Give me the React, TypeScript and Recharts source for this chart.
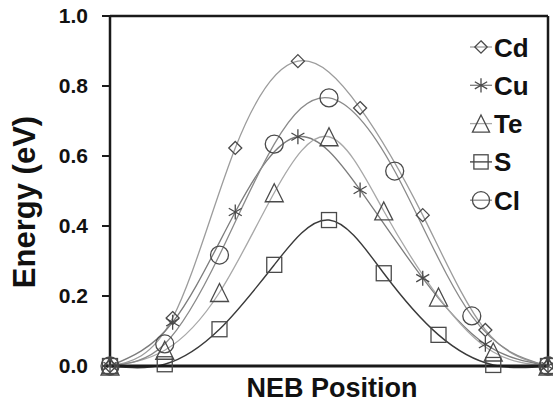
import React from 'react';
import { LineChart, Line, XAxis, YAxis, ReferenceLine, Legend } from 'recharts';

const seriesNames = ['Cd', 'Cu', 'Te', 'S', 'Cl'];

const cdX = [0, 0.143, 0.286, 0.429, 0.571, 0.714, 0.857, 1];
const cdY = [0, 0.137, 0.623, 0.871, 0.737, 0.431, 0.103, 0];

const cuX = [0, 0.143, 0.286, 0.429, 0.571, 0.714, 0.857, 1];
const cuY = [0, 0.125, 0.44, 0.655, 0.503, 0.251, 0.062, 0];

const teX = [0, 0.125, 0.25, 0.375, 0.5, 0.625, 0.75, 0.875, 1];
const teY = [0, 0.045, 0.21, 0.495, 0.655, 0.443, 0.197, 0.04, 0];

const sX = [0, 0.125, 0.25, 0.375, 0.5, 0.625, 0.75, 0.875, 1];
const sY = [0, 0.005, 0.105, 0.289, 0.417, 0.265, 0.089, 0.003, 0];

const clX = [0, 0.125, 0.25, 0.375, 0.5, 0.65, 0.826, 1];
const clY = [0, 0.063, 0.317, 0.634, 0.766, 0.557, 0.143, 0];

const yTicks = [0, 0.2, 0.4, 0.6, 0.8, 1.0];

const zip = (xs: number[], ys: number[]) => xs.map((x, i) => ({ x, y: ys[i] }));

const FONT = '"Liberation Sans", Arial, Helvetica, sans-serif';
const MARK = '#4a4a4a';

type Shape = 'diamond' | 'star' | 'triangle' | 'square' | 'circle';

const series: { name: string; data: { x: number; y: number }[]; color: string; shape: Shape; width: number }[] = [
  { name: seriesNames[0], data: zip(cdX, cdY), color: '#9c9c9c', shape: 'diamond', width: 1.3 },
  { name: seriesNames[1], data: zip(cuX, cuY), color: '#7c7c7c', shape: 'star', width: 1.3 },
  { name: seriesNames[2], data: zip(teX, teY), color: '#a8a8a8', shape: 'triangle', width: 1.3 },
  { name: seriesNames[4], data: zip(clX, clY), color: '#8a8a8a', shape: 'circle', width: 1.3 },
  { name: seriesNames[3], data: zip(sX, sY), color: '#3a3a3a', shape: 'square', width: 1.4 },
];

const Marker = ({ cx, cy, shape, s = 1 }: { cx: number; cy: number; shape: Shape; s?: number }) => {
  const common = { fill: 'none', stroke: MARK, strokeWidth: 1.3 };
  if (shape === 'diamond') {
    const r = 6.5 * s;
    return <path d={`M${cx},${cy - r}L${cx + r},${cy}L${cx},${cy + r}L${cx - r},${cy}Z`} {...common} />;
  }
  if (shape === 'square') {
    const r = 7.5 * s;
    return <rect x={cx - r} y={cy - r} width={2 * r} height={2 * r} {...common} />;
  }
  if (shape === 'circle') {
    return <circle cx={cx} cy={cy} r={9 * s} {...common} />;
  }
  if (shape === 'triangle') {
    const w = 9 * s;
    const h = 9 * s;
    return <path d={`M${cx},${cy - h}L${cx + w},${cy + h}L${cx - w},${cy + h}Z`} {...common} />;
  }
  const r = 7.5 * s;
  const a = r * Math.cos(Math.PI / 6);
  const b = r * Math.sin(Math.PI / 6);
  return (
    <path
      d={`M${cx},${cy - r}L${cx},${cy + r}M${cx - a},${cy - b}L${cx + a},${cy + b}M${cx - a},${cy + b}L${cx + a},${cy - b}`}
      {...common}
    />
  );
};

const legendOrder = ['Cd', 'Cu', 'Te', 'S', 'Cl'];

const LegendContent = () => (
  <svg width={80} height={200} style={{ display: 'block' }}>
    {legendOrder.map((n, i) => {
      const sr = series.find((d) => d.name === n)!;
      const cy = 19 + i * 38.3;
      return (
        <g key={n}>
          <line x1={0} x2={22} y1={cy} y2={cy} stroke={sr.color} strokeWidth={1.3} />
          <Marker cx={11} cy={cy} shape={sr.shape} s={0.95} />
          <text x={24} y={cy + 9.5} fontFamily={FONT} fontWeight="bold" fontSize={26} fill="#111">
            {n}
          </text>
        </g>
      );
    })}
  </svg>
);

const YLabel = (props: any) => {
  const vb = props.viewBox || {};
  const x = (vb.x ?? 0) + 24;
  const y = (vb.y ?? 0) + (vb.height ?? 0) / 2 + 11;
  return (
    <text
      x={x}
      y={y}
      transform={`rotate(-90, ${x}, ${y})`}
      textAnchor="middle"
      dominantBaseline="central"
      fontFamily={FONT}
      fontWeight="bold"
      fontSize={31}
      fill="#111"
    >
      Energy (eV)
    </text>
  );
};

const XLabel = (props: any) => {
  const vb = props.viewBox || {};
  const x = (vb.x ?? 0) + (vb.width ?? 0) / 2 + 3;
  const y = 397;
  return (
    <text x={x} y={y} textAnchor="middle" fontFamily={FONT} fontWeight="bold" fontSize={27} fill="#111">
      NEB Position
    </text>
  );
};

export default function App() {
  return (
    <div style={{ position: 'absolute', left: 0, top: 0, width: 553, height: 403, background: '#fff' }}>
      <LineChart width={553} height={403} margin={{ top: 16, right: 5, bottom: 0, left: 0 }}>
        <XAxis
          type="number"
          dataKey="x"
          domain={[0, 1]}
          ticks={[]}
          tick={false}
          tickLine={false}
          axisLine={{ stroke: '#1a1a1a', strokeWidth: 3 }}
          height={37}
          allowDuplicatedCategory={false}
          label={<XLabel />}
        />
        <YAxis
          type="number"
          domain={[0, 1]}
          ticks={yTicks}
          interval={0}
          width={110}
          tickSize={8}
          tickMargin={14}
          tickFormatter={(v: number) => v.toFixed(1)}
          tick={{ fontFamily: FONT, fontWeight: 'bold', fontSize: 21, fill: '#111' }}
          tickLine={{ stroke: '#1a1a1a', strokeWidth: 2 }}
          axisLine={{ stroke: '#1a1a1a', strokeWidth: 2.5 }}
          label={<YLabel />}
        />
        <ReferenceLine y={1} stroke="#1a1a1a" strokeWidth={2.5} />
        <ReferenceLine x={1} stroke="#1a1a1a" strokeWidth={2.5} />
        <Legend
          verticalAlign="middle"
          align="center"
          layout="vertical"
          wrapperStyle={{ position: 'absolute', top: 28, left: 470, width: 80, height: 200 }}
          content={<LegendContent />}
        />
        {series.map((sr) => (
          <Line
            key={sr.name}
            name={sr.name}
            data={sr.data}
            dataKey="y"
            type="natural"
            stroke={sr.color}
            strokeWidth={sr.width}
            isAnimationActive={false}
            legendType="none"
            dot={(p: any) => <Marker key={`${sr.name}-${p.index}`} cx={p.cx} cy={p.cy} shape={sr.shape} />}
            activeDot={false}
          />
        ))}
      </LineChart>
    </div>
  );
}
